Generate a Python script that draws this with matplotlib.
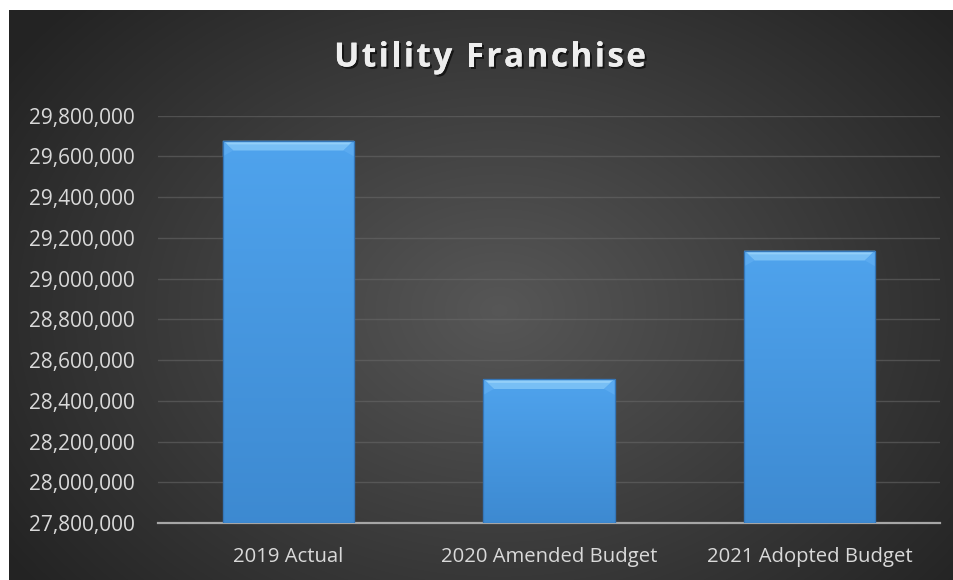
import numpy as np
import matplotlib.pyplot as plt
from matplotlib.ticker import FuncFormatter
from matplotlib.patches import Polygon
import matplotlib.patheffects as pe

categories = ["2019 Actual", "2020 Amended Budget", "2021 Adopted Budget"]
values = [29677000, 28506000, 29137000]
y_ticks = list(range(27800000, 29800001, 200000))
title = "Utility Franchise"

fig = plt.figure(figsize=(9.54, 5.8), dpi=100)
fig.patch.set_facecolor("white")

# dark panel with a soft radial glow in the middle
bg = fig.add_axes([9 / 954, 0, 1 - 9 / 954, 570 / 580])
bg.set_axis_off()
h, w = 570, 945
yy, xx = np.mgrid[0:h, 0:w]
cx, cy = 490, 300
r = np.sqrt(((xx - cx) / 560.0) ** 2 + ((yy - cy) / 420.0) ** 2)
shade = np.clip(0.34 - 0.19 * r, 0.14, 0.345)
img = np.dstack([shade, shade, shade])
bg.imshow(img, extent=[0, 1, 0, 1], aspect="auto", origin="upper")
bg.set_xlim(0, 1)
bg.set_ylim(0, 1)

ax = fig.add_axes([158 / 954, 57 / 580, 782 / 954, (523 - 115.7) / 580])
ax.patch.set_alpha(0)
ax.set_zorder(2)

x = np.arange(len(categories))
bars = ax.bar(x, values, width=0.503, color="#4a9ee8", zorder=3,
              edgecolor="#3a80c4", linewidth=0.8)

ax.set_xlim(-0.5, 2.5)
ax.set_ylim(27800000, 29800000)
ax.set_yticks(y_ticks)
ax.yaxis.set_major_formatter(FuncFormatter(lambda v, p: f"{int(v):,}"))
ax.set_xticks(x)
ax.set_xticklabels(categories)

ax.grid(axis="y", color="#6a6a6a", linewidth=1.0, alpha=0.55, zorder=0)
ax.set_axisbelow(True)
for s in ["top", "right", "left"]:
    ax.spines[s].set_visible(False)
ax.spines["bottom"].set_color("#a6a6a6")
ax.spines["bottom"].set_linewidth(1.6)
ax.tick_params(axis="both", length=0, colors="#d9d9d9")
ax.tick_params(axis="y", labelsize=15, pad=16.5)
ax.tick_params(axis="x", labelsize=14.6, pad=17)
for lab in ax.get_xticklabels() + ax.get_yticklabels():
    lab.set_fontfamily("Open Sans")

# shading and bevel on each bar
grad = np.linspace(0, 1, 200).reshape(-1, 1)
cols = np.array([[0.31, 0.64, 0.93], [0.24, 0.54, 0.82]])
bar_img = cols[0] + (cols[1] - cols[0]) * grad[..., None]
bar_img = bar_img.reshape(200, 1, 3)
dx = 0.04
dy = 48000
for b in bars:
    x0, w0, top = b.get_x(), b.get_width(), b.get_height()
    bot = 27800000
    im = ax.imshow(bar_img, extent=[x0, x0 + w0, bot, top], aspect="auto",
                   origin="upper", zorder=3.5)
    im.set_clip_path(b)
    bevel_top = Polygon([[x0, top], [x0 + w0, top], [x0 + w0 - dx, top - dy],
                         [x0 + dx, top - dy]], closed=True,
                        facecolor="#78bff5", edgecolor="none", zorder=4)
    ax.add_patch(bevel_top)
    bevel_hi = Polygon([[x0 + 0.01, top - 8000], [x0 + w0 - 0.01, top - 8000],
                        [x0 + w0 - 0.02, top - 18000], [x0 + 0.02, top - 18000]],
                       closed=True, facecolor="#9fd6fb", edgecolor="none",
                       alpha=0.7, zorder=4.1)
    ax.add_patch(bevel_hi)
    for side in (0, 1):
        xs = x0 if side == 0 else x0 + w0
        xi = x0 + dx if side == 0 else x0 + w0 - dx
        corner = Polygon([[xs, top], [xi, top - dy], [xs, top - dy * 1.6]],
                         closed=True, facecolor="#5aaaf0", edgecolor="none",
                         zorder=4.2)
        ax.add_patch(corner)
    ax.add_patch(Polygon([[x0, top], [x0 + w0, top], [x0 + w0, bot], [x0, bot]],
                         closed=True, facecolor="none", edgecolor="#3576b8",
                         linewidth=0.9, zorder=4.5))

# spaced-out title, laid out one character at a time
renderer = fig.canvas.get_renderer()
shadow = [pe.withSimplePatchShadow(offset=(1.5, -1.5), shadow_rgbFace="black",
                                   alpha=0.6), pe.Normal()]
spacing = 2.4
chars = []
for ch in title:
    t = fig.text(0, 1 - 58 / 580, ch, ha="left", va="center", fontsize=24,
                 fontweight="bold", color="#eeeeee", family="Open Sans",
                 path_effects=shadow)
    chars.append(t)
widths = []
for ch, t in zip(title, chars):
    if ch == " ":
        widths.append(8.5)
    else:
        widths.append(t.get_window_extent(renderer).width)
total = sum(widths) + spacing * (len(title) - 1)
pos = 490 - total / 2
for t, wd in zip(chars, widths):
    t.set_x(pos / 954)
    pos += wd + spacing

fig.savefig("out.png", dpi=100, facecolor=fig.get_facecolor())
